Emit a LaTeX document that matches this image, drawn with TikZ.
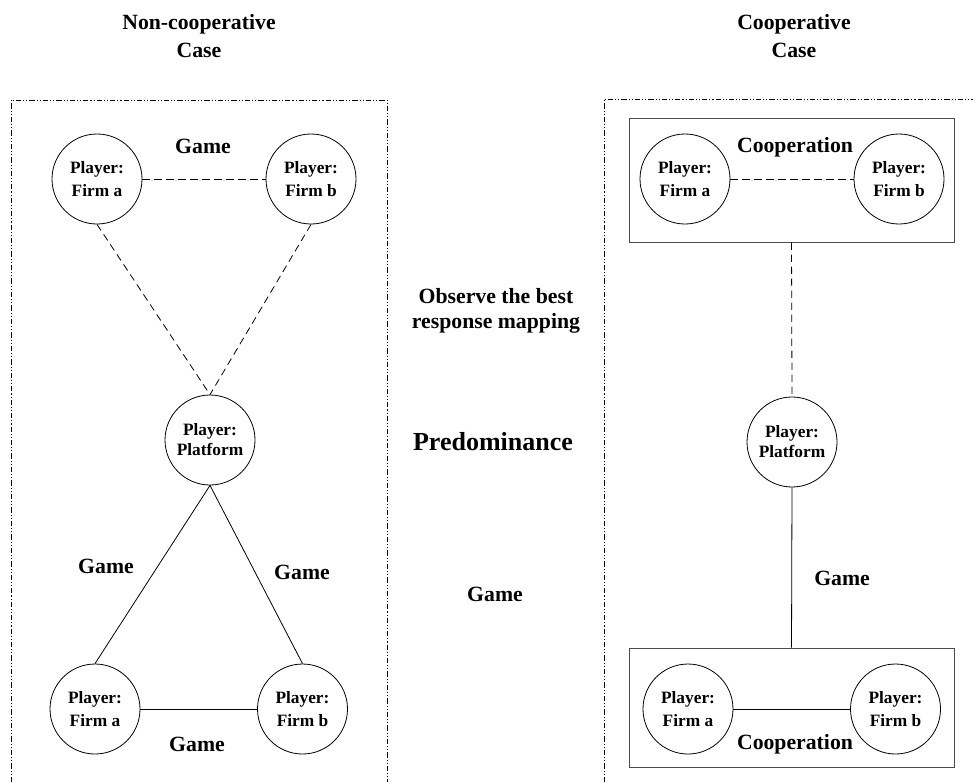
\documentclass[tikz,border=0pt]{standalone}
\usepackage{fontspec}
\setmainfont{Liberation Serif}
\usetikzlibrary{positioning}

\begin{document}
\begin{tikzpicture}[x=0.75pt, y=-0.75pt,
  player/.style={draw, circle, line width=0.6pt, minimum size=67.5pt, inner sep=0pt, align=center, font=\bfseries\fontsize{13}{17}\selectfont},
  lbl/.style={font=\bfseries\fontsize{16.3}{21}\selectfont, align=center},
  casebox/.style={line width=0.5pt, dash pattern=on 4pt off 1.5pt on 0.8pt off 1.5pt on 0.8pt off 1.5pt},
  coopbox/.style={draw, line width=0.75pt, black!70, minimum width=243.75pt, inner sep=0pt},
  gameline/.style={line width=0.6pt},
  dashline/.style={line width=0.6pt, dash pattern=on 5.5pt off 3.5pt}]
\useasboundingbox (0,0) rectangle (973,782);

% titles and middle texts
\node[lbl] (ttlN) at (199,36) {Non-cooperative\\Case};
\node[lbl] (ttlC) at (794,36) {Cooperative\\Case};
\node[lbl, font=\bfseries\fontsize{16.3}{18.75}\selectfont] (obs) at (496,311) {Observe the best\\response mapping};
\node[lbl, font=\bfseries\fontsize{19.5}{23}\selectfont] (pred) at (493,442) {Predominance};
\node[lbl] (gmid) at (495,594) {Game};

% dash-dot frames
\draw[casebox] (11,782) -- (11,100) -- (387,100) -- (387,782);
\draw[casebox] (604,782) -- (604,99) -- (973,99);

% non-cooperative case
\node[player] (fa1) at (97,179) {Player:\\Firm a};
\node[player] (fb1) at (311,179) {Player:\\Firm b};
\node[player, font=\bfseries\fontsize{13}{15}\selectfont] (pf1) at (210,440) {Player:\\Platform};
\node[player] (fa2) at (95,709) {Player:\\Firm a};
\node[player] (fb2) at (302.5,709) {Player:\\Firm b};
\node[lbl] (g1) at (203,146) {Game};
\node[lbl] (g2) at (106,566) {Game};
\node[lbl] (g3) at (302,572) {Game};
\node[lbl] (g4) at (197,744) {Game};

\draw[dashline] (fa1) -- (fb1);
\draw[dashline] (fa1.south) -- (pf1.north);
\draw[dashline] (fb1.south) -- (pf1.north);
\draw[gameline] (pf1.south) -- (fa2.north);
\draw[gameline] (pf1.south) -- (fb2.north);
\draw[gameline] (fa2) -- (fb2);

% cooperative case
\node[coopbox, minimum height=93pt] (topbox) at (791.5,180) {};
\node[coopbox, minimum height=89.25pt] (botbox) at (791.5,707.5) {};
\node[player] (cfa1) at (685,179) {Player:\\Firm a};
\node[player] (cfb1) at (899,179) {Player:\\Firm b};
\node[player, font=\bfseries\fontsize{13}{15}\selectfont] (pf2) at (792,442) {Player:\\Platform};
\node[player] (cfa2) at (688,709) {Player:\\Firm a};
\node[player] (cfb2) at (895.5,709) {Player:\\Firm b};
\node[lbl] (c1) at (795,147) {Cooperation};
\node[lbl] (c2) at (795,744) {Cooperation};
\node[lbl] (g5) at (842,578) {Game};

\draw[dashline] (cfa1) -- (cfb1);
\draw[dashline] (topbox.south) -- (pf2.north);
\draw[gameline] (pf2.south) -- (botbox.north);
\draw[gameline] (cfa2) -- (cfb2);
\end{tikzpicture}
\end{document}
